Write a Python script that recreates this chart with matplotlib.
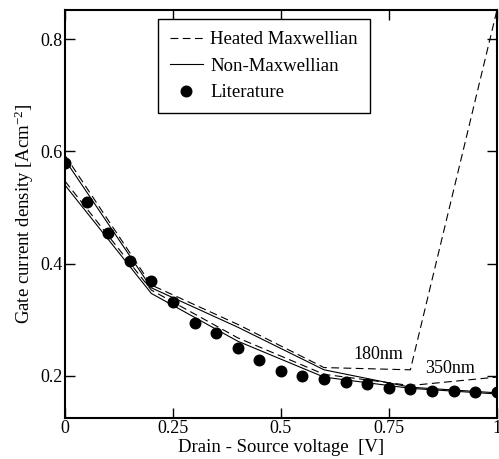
import matplotlib
matplotlib.use('Agg')
import matplotlib.pyplot as plt

# Gate current density vs drain-source voltage
plt.rcParams['font.family'] = ['Liberation Serif', 'DejaVu Serif']
plt.rcParams['mathtext.default'] = 'regular'
fs = 13
fs_lab = 13.5

# literature data
vds_lit = [0.0, 0.05, 0.1, 0.15, 0.2, 0.25, 0.3, 0.35, 0.4, 0.45, 0.5,
           0.55, 0.6, 0.65, 0.7, 0.75, 0.8, 0.85, 0.9, 0.95, 1.0]
j_lit = [0.580, 0.510, 0.454, 0.404, 0.369, 0.331, 0.294, 0.276, 0.250, 0.228, 0.209,
         0.200, 0.194, 0.189, 0.185, 0.179, 0.176, 0.174, 0.173, 0.172, 0.172]

# simulation nodes
vds_sim = [0.0, 0.2, 0.4, 0.6, 0.8, 1.0]
hm_180 = [0.593, 0.362, 0.292, 0.215, 0.211, 0.850]
nm_180 = [0.585, 0.357, 0.287, 0.211, 0.180, 0.170]
hm_350 = [0.547, 0.353, 0.268, 0.203, 0.183, 0.198]
nm_350 = [0.540, 0.347, 0.262, 0.198, 0.178, 0.168]

fig = plt.figure(figsize=(4.99, 4.59), dpi=100)
ax = fig.add_axes([0.1303, 0.09, 0.8651, 0.8882])

dash = (0, (7, 4))
lw = 0.8
ax.plot(vds_sim, hm_180, color='k', lw=lw, linestyle=dash, label='Heated Maxwellian')
ax.plot(vds_sim, nm_180, color='k', lw=lw, label='Non-Maxwellian')
ax.plot(vds_sim, hm_350, color='k', lw=lw, linestyle=dash)
ax.plot(vds_sim, nm_350, color='k', lw=lw)
ax.plot(vds_lit, j_lit, 'o', color='k', ms=7.6, label='Literature')

ax.text(0.667, 0.239, '180nm', fontsize=fs, va='center', ha='left')
ax.text(0.834, 0.214, '350nm', fontsize=fs, va='center', ha='left')

ax.set_xlim(0, 1)
ax.set_ylim(0.1257, 0.852)
ax.set_xticks([0, 0.25, 0.5, 0.75, 1])
ax.set_xticklabels(['0', '0.25', '0.5', '0.75', '1'])
ax.set_yticks([0.2, 0.4, 0.6, 0.8])
ax.set_yticklabels(['0.2', '0.4', '0.6', '0.8'])
ax.tick_params(direction='in', length=7, width=1, top=True, right=True,
               labelsize=fs, pad=2)
for sp in ax.spines.values():
    sp.set_linewidth(1.5)

ax.set_xlabel('Drain - Source voltage  [V]', fontsize=fs_lab, labelpad=1)
ax.set_ylabel('Gate current density [Acm$^{-2}$]', fontsize=fs_lab, labelpad=3)

leg = ax.legend(loc='upper left', bbox_to_anchor=(0.215, 0.978), fontsize=fs_lab,
                frameon=True, fancybox=False, shadow=False, edgecolor='k',
                framealpha=1, handlelength=1.75, handletextpad=0.4,
                labelspacing=0.5, borderpad=0.65, borderaxespad=0)
leg.get_frame().set_linewidth(1.0)

fig.savefig('out.png', dpi=100)
